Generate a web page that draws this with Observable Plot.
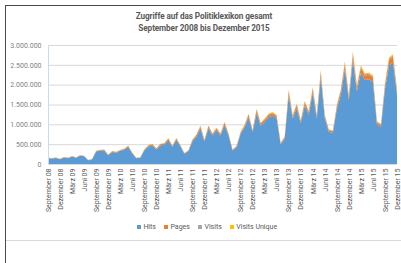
<!DOCTYPE html>
<html>
<head>
<meta charset="utf-8">
<script src="https://cdn.jsdelivr.net/npm/d3@7"></script>
<script src="https://cdn.jsdelivr.net/npm/@observablehq/plot@0.6"></script>
<style>
  html, body { margin: 0; padding: 0; background: #fff; }
  #wrap { position: relative; width: 401px; height: 263px; overflow: hidden; font-family: Roboto, "Open Sans", sans-serif; color: #595959; }
  #wrap svg { position: absolute; left: 0; top: 0; }
  .title { position: absolute; left: 0; width: 408px; text-align: center; font-weight: bold; font-size: 8.2px; letter-spacing: -0.1px; color: #595959; white-space: nowrap; }
  .frameTop { position: absolute; left: 5px; top: 5px; width: 396px; height: 0; border-top: 1.5px solid #4a4a4a; }
  .frameLeft { position: absolute; left: 5px; top: 5px; width: 0; height: 258px; border-left: 1px solid #4a4a4a; }
  .frameBottom { position: absolute; left: 6px; top: 240px; width: 395px; height: 0; border-top: 1px solid #d9d9d9; }
  #legend { position: absolute; top: 223px; left: 0; width: 414px; text-align: center; font-size: 7px; color: #595959; white-space: nowrap; }
  #legend span.item { margin: 0 4px; }
  #legend span.sw { display: inline-block; width: 4.5px; height: 4.5px; margin-right: 2px; vertical-align: 0px; }
</style>
</head>
<body>
<div id="wrap">
  <div class="frameTop"></div>
  <div class="frameLeft"></div>
  <div class="frameBottom"></div>
  <div class="title" style="top:11px">Zugriffe auf das Politiklexikon gesamt</div>
  <div class="title" style="top:23px">September 2008 bis Dezember 2015</div>
  <div id="legend"></div>
</div>
<script>
// Series names and colours
const seriesNames = ["Hits", "Pages", "Visits", "Visits Unique"];
const seriesColors = ["#5B9BD5", "#ED7D31", "#A5A5A5", "#FFC000"];

// Monthly values (thousands), September 2008 .. Dezember 2015
const hits = [
  145,138,152,120,165,148,188,156,207,193,
  92,120,313,331,340,221,303,285,331,359,
  432,267,147,156,340,442,469,368,469,488,
  607,432,607,442,258,322,570,690,897,570,
  902,718,846,718,984,718,340,423,754,920,
  1178,800,1288,966,1058,1178,1214,1150,497,644,
  1730,1150,1408,1030,1472,1242,1794,1150,2190,1150,
  810,782,1380,1748,2392,1610,2622,1840,2300,2116,
  2134,2070,994,938,1886,2484,2558,1748
];
const pages = [
  8,8,8,7,9,8,10,9,11,11,
  5,7,17,18,19,12,17,16,18,20,
  24,15,8,9,19,24,26,20,26,27,
  33,24,33,24,14,18,31,38,49,31,
  50,39,47,39,54,39,19,23,41,51,
  65,44,71,53,58,65,67,63,27,35,
  95,63,77,57,81,68,99,63,120,63,
  45,43,76,96,132,89,144,101,127,116,
  117,114,55,52,104,137,141,96
];
const visits = [
  2,2,2,2,2,2,3,2,3,3,
  1,2,5,5,5,3,5,4,5,5,
  6,4,2,2,5,7,7,6,7,7,
  9,6,9,7,4,5,9,10,13,9,
  14,11,13,11,15,11,5,6,11,14,
  18,12,19,14,16,18,18,17,7,10,
  26,17,21,15,22,19,27,17,33,17,
  12,12,21,26,36,24,39,28,35,32,
  32,31,15,14,28,37,38,26
];
const visitsUnique = [
  2,2,2,1,2,2,2,2,2,2,
  1,1,4,4,4,3,4,3,4,4,
  5,3,2,2,4,5,6,4,6,6,
  7,5,7,5,3,4,7,8,11,7,
  11,9,10,9,12,9,4,5,9,11,
  14,10,15,12,13,14,15,14,6,8,
  21,14,17,12,18,15,22,14,26,14,
  10,9,17,21,29,19,31,22,28,25,
  26,25,12,11,23,30,31,21
];

// x tick labels (every third month)
const tickLabels = [
  "September 08","Dezember 08","März 09","Juni 09",
  "September 09","Dezember 09","März 10","Juni 10",
  "September 10","Dezember 10","März 11","Juni 11",
  "September 11","Dezember 11","März 12","Juni 12",
  "September 12","Dezember 12","März 13","Juni 13",
  "September 13","Dezember 13","März 14","Juni 14",
  "September 14","Dezember 14","März 15","Juni 15",
  "September 15","Dezember 15"
];
const yTicks = [0, 500000, 1000000, 1500000, 2000000, 2500000, 3000000];

// Build long table
const seriesArrays = [hits, pages, visits, visitsUnique];
const table = [];
seriesNames.forEach((name, s) => {
  seriesArrays[s].forEach((v, i) => table.push({i, series: name, value: v * 1000}));
});
const tickIdx = tickLabels.map((_, k) => k * 3);

const de = d3.formatLocale({decimal: ",", thousands: ".", grouping: [3], currency: ["", "€"]});
const fmt = de.format(",d");

const chart = Plot.plot({
  width: 401,
  height: 263,
  marginLeft: 48,
  marginRight: 4,
  marginTop: 45,
  marginBottom: 99,
  style: {fontFamily: "Roboto, 'Open Sans', sans-serif", fontSize: "7px", color: "#595959", background: "transparent"},
  x: {domain: [0, hits.length - 1], axis: null},
  y: {domain: [0, 3000000], axis: null},
  color: {domain: seriesNames, range: seriesColors},
  marks: [
    Plot.ruleY(yTicks, {stroke: "#d9d9d9", strokeWidth: 1}),
    Plot.areaY(table, Plot.stackY({x: "i", y: "value", fill: "series", z: "series", order: seriesNames, curve: "linear"})),
    Plot.ruleX([0], {y1: 0, y2: 3000000, stroke: "#c9dcf0", strokeWidth: 1}),
    Plot.ruleY([0], {stroke: "#d9d9d9"}),
    Plot.text(yTicks, {frameAnchor: "left", y: d => d, dx: -7, textAnchor: "end", text: d => fmt(d), fill: "#7f7f7f", fontSize: 7}),
    Plot.text(tickIdx, {x: d => d, frameAnchor: "bottom", dy: 4, rotate: -90, textAnchor: "end", lineAnchor: "middle", text: (d, k) => tickLabels[k], fill: "#595959", fontSize: 7})
  ]
});
document.getElementById("wrap").insertBefore(chart, document.getElementById("wrap").firstChild);

// Legend
const legend = document.getElementById("legend");
seriesNames.forEach((n, k) => {
  const it = document.createElement("span");
  it.className = "item";
  it.innerHTML = `<span class="sw" style="background:${seriesColors[k]}"></span>${n}`;
  legend.appendChild(it);
});
</script>
</body>
</html>
